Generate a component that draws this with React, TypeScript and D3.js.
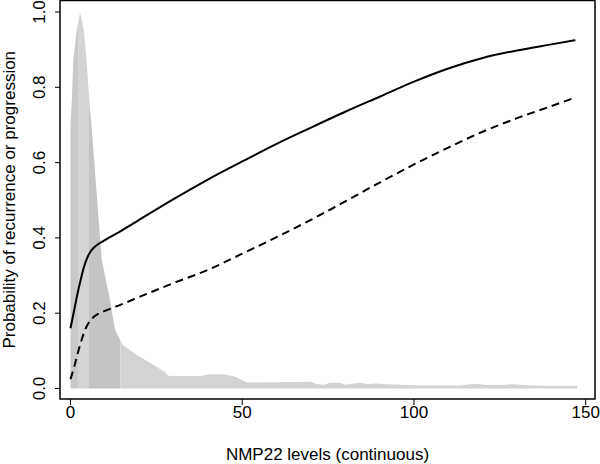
import React from "react";
import * as d3 from "d3";

const xTicks = [0, 50, 100, 150];
const yTicks = [0, 0.2, 0.4, 0.6, 0.8, 1.0];

// Scaled density of NMP22 levels
const densX = [0, 0, 0.4, 0.8, 1.8, 2.8, 3.9, 4.7, 5.4, 6.2, 9.1, 11.5, 13, 15.3, 19.4, 20.2, 23.2, 27.5, 28.4, 30.5, 37.7, 40.6, 45, 48, 51.4, 56, 64, 70, 71.5, 73.8, 75.6, 78.5, 80, 84.3, 86.6, 89, 92, 96, 101.8, 108, 113.5, 116.4, 119, 120.8, 125, 128.6, 132.4, 136.8, 142, 147.5, 147.5];
const densY = [0, 0.70, 0.77, 0.87, 0.95, 1.0, 0.95, 0.87, 0.77, 0.687, 0.342, 0.235, 0.155, 0.115, 0.089, 0.084, 0.068, 0.044, 0.034, 0.033, 0.033, 0.038, 0.037, 0.031, 0.016, 0.016, 0.017, 0.018, 0.012, 0.01, 0.015, 0.015, 0.01, 0.015, 0.012, 0.013, 0.011, 0.01, 0.008, 0.008, 0.008, 0.011, 0.012, 0.009, 0.009, 0.011, 0.009, 0.007, 0.007, 0.007, 0];

// Predicted probability curves
const curveX = [0, 1, 2, 3, 4, 5, 6, 7, 8, 10, 15, 20, 30, 40, 50, 60, 70, 80, 90, 100, 110, 120, 130, 140, 147];
const recurrence = [0.16, 0.205, 0.25, 0.29, 0.325, 0.35, 0.366, 0.376, 0.383, 0.394, 0.42, 0.448, 0.503, 0.555, 0.603, 0.65, 0.693, 0.735, 0.775, 0.815, 0.85, 0.878, 0.898, 0.914, 0.925];
const progression = [0.025, 0.055, 0.09, 0.122, 0.15, 0.17, 0.183, 0.192, 0.198, 0.206, 0.224, 0.243, 0.28, 0.315, 0.358, 0.402, 0.448, 0.497, 0.547, 0.595, 0.64, 0.682, 0.718, 0.75, 0.773];

const bands = [
  { x0: -5, x1: 2.2, color: "#c9c9c9" },
  { x0: 2.2, x1: 5.2, color: "#d4d4d4" },
  { x0: 5.2, x1: 14.5, color: "#c4c4c4" },
  { x0: 14.5, x1: 160, color: "#d3d3d3" },
];

export default function App() {
  const W = 600, H = 464;
  const L = 60, R = 595, T = 0.5, B = 399;
  const x = d3.scaleLinear().domain([0, 150]).range([70.5, 585.7]);
  const y = d3.scaleLinear().domain([0, 1]).range([388.5, 12]);

  const densPts = densX.map((v, i) => [v, densY[i]] as [number, number]);
  const densPath = d3.line<[number, number]>().x(d => x(d[0])).y(d => y(d[1]))(densPts) + "Z";

  const line = d3.line<number>().x((_, i) => x(curveX[i])).y(d => y(d)).curve(d3.curveMonotoneX);

  const font = "Liberation Sans, Arial, sans-serif";
  return (
    <svg width={W} height={H} style={{ position: "absolute", left: 0, top: 0, background: "#fff" }}>
      <defs>
        <clipPath id="densClip">
          <path d={densPath} />
        </clipPath>
      </defs>
      <g clipPath="url(#densClip)">
        {bands.map((b, i) => (
          <rect key={i} x={x(b.x0)} y={0} width={x(b.x1) - x(b.x0)} height={H} fill={b.color} />
        ))}
      </g>
      <path d={line(recurrence) || ""} fill="none" stroke="#000" strokeWidth={2} />
      <path d={line(progression) || ""} fill="none" stroke="#000" strokeWidth={2} strokeDasharray="8,5" />
      <rect x={L} y={T} width={R - L} height={B - T} fill="none" stroke="#000" strokeWidth={1.5} />
      {xTicks.map(t => (
        <g key={t}>
          <line x1={x(t)} x2={x(t)} y1={B} y2={B + 6} stroke="#000" />
          <text x={x(t)} y={418} textAnchor="middle" fontFamily={font} fontSize={17}>{t}</text>
        </g>
      ))}
      {yTicks.map(t => (
        <g key={t}>
          <line x1={L - 5} x2={L} y1={y(t)} y2={y(t)} stroke="#000" />
          <text transform={`translate(45,${y(t)}) rotate(-90)`} textAnchor="middle" fontFamily={font} fontSize={17}>{t.toFixed(1)}</text>
        </g>
      ))}
      <text x={(L + R) / 2} y={460} textAnchor="middle" fontFamily={font} fontSize={17}>NMP22 levels (continuous)</text>
      <text transform={`translate(14.5,${(T + B) / 2}) rotate(-90)`} textAnchor="middle" fontFamily={font} fontSize={17}>Probability of recurrence or progression</text>
    </svg>
  );
}
